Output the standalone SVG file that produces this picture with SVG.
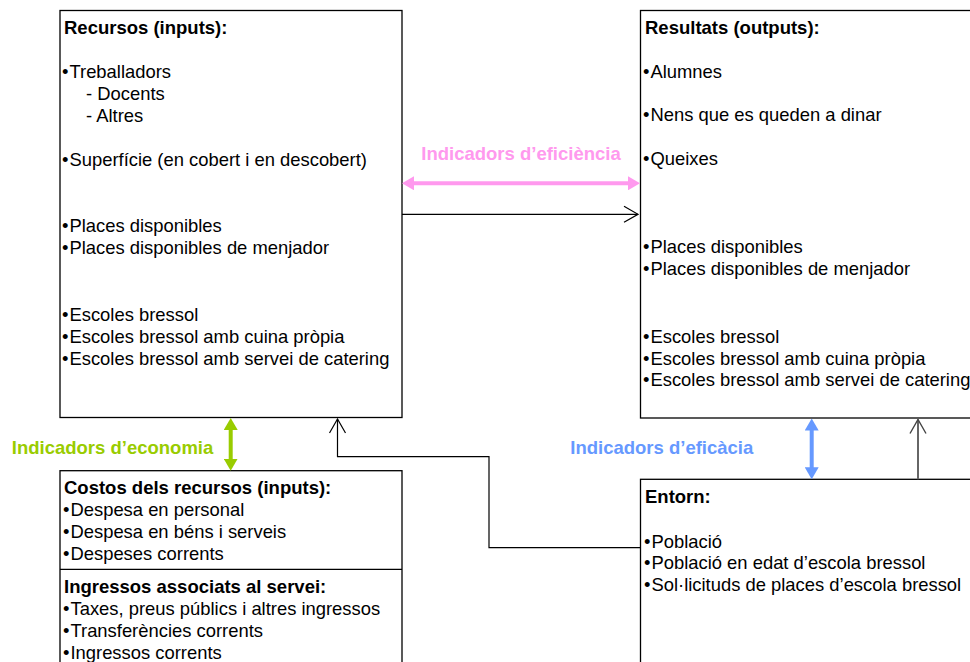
<svg xmlns="http://www.w3.org/2000/svg" width="970" height="662" viewBox="0 0 970 662">
<style>
  .box { fill: #ffffff; stroke: #000000; stroke-width: 1.3; }
  .t { font-family: "Liberation Sans", Arial, sans-serif; font-size: 18.4px; fill: #000000; }
  .h { font-family: "Liberation Sans", Arial, sans-serif; font-size: 18.5px; font-weight: bold; fill: #000000; }
  .lbl { font-family: "Liberation Sans", Arial, sans-serif; font-size: 18.5px; font-weight: bold; }
  .open { fill: none; stroke: #000000; stroke-width: 1.2; }
</style>
<defs>
  <marker id="pinkHead" viewBox="0 0 12 14" refX="2" refY="7" markerWidth="12" markerHeight="14" markerUnits="userSpaceOnUse" orient="auto-start-reverse">
    <path d="M0,0 L12,7 L0,14 z" fill="#ff99ee"/>
  </marker>
  <marker id="greenHead" viewBox="0 0 12 14" refX="2" refY="7" markerWidth="12" markerHeight="14" markerUnits="userSpaceOnUse" orient="auto-start-reverse">
    <path d="M0,0 L12,7 L0,14 z" fill="#99cc00"/>
  </marker>
  <marker id="blueHead" viewBox="0 0 12 14" refX="2" refY="7" markerWidth="12" markerHeight="14" markerUnits="userSpaceOnUse" orient="auto-start-reverse">
    <path d="M0,0 L12,7 L0,14 z" fill="#6699ff"/>
  </marker>
  <marker id="openBlack" viewBox="0 0 16 18" refX="15" refY="9" markerWidth="16" markerHeight="18" markerUnits="userSpaceOnUse" orient="auto">
    <path d="M1,1 L15,9 L1,17" fill="none" stroke="#000000" stroke-width="1.2"/>
  </marker>
  <marker id="openGray" viewBox="0 0 16 18" refX="15" refY="9" markerWidth="16" markerHeight="18" markerUnits="userSpaceOnUse" orient="auto">
    <path d="M1,1 L15,9 L1,17" fill="none" stroke="#444444" stroke-width="1.4"/>
  </marker>
</defs>

<g id="recursos">
  <rect class="box" x="60" y="10.5" width="342" height="407"/>
  <text class="h" x="64" y="34">Recursos (inputs):</text>
  <text class="t" x="62" y="78">•<tspan dx="1">Treballadors</tspan></text>
  <text class="t" x="86" y="100">- Docents</text>
  <text class="t" x="86" y="122">- Altres</text>
  <text class="t" x="62" y="166">•<tspan dx="1">Superfície (en cobert i en descobert)</tspan></text>
  <text class="t" x="62" y="232">•<tspan dx="1">Places disponibles</tspan></text>
  <text class="t" x="62" y="254">•<tspan dx="1">Places disponibles de menjador</tspan></text>
  <text class="t" x="62" y="321">•<tspan dx="1">Escoles bressol</tspan></text>
  <text class="t" x="62" y="343">•<tspan dx="1">Escoles bressol amb cuina pròpia</tspan></text>
  <text class="t" x="62" y="365">•<tspan dx="1">Escoles bressol amb servei de catering</tspan></text>
</g>

<g id="resultats">
  <rect class="box" x="640.5" y="10.5" width="360" height="407.5"/>
  <text class="h" x="645" y="34">Resultats (outputs):</text>
  <text class="t" x="643" y="78">•<tspan dx="1">Alumnes</tspan></text>
  <text class="t" x="643" y="121">•<tspan dx="1">Nens que es queden a dinar</tspan></text>
  <text class="t" x="643" y="165">•<tspan dx="1">Queixes</tspan></text>
  <text class="t" x="643" y="253">•<tspan dx="1">Places disponibles</tspan></text>
  <text class="t" x="643" y="275">•<tspan dx="1">Places disponibles de menjador</tspan></text>
  <text class="t" x="643" y="343">•<tspan dx="1">Escoles bressol</tspan></text>
  <text class="t" x="643" y="365">•<tspan dx="1">Escoles bressol amb cuina pròpia</tspan></text>
  <text class="t" x="643" y="386">•<tspan dx="1">Escoles bressol amb servei de catering</tspan></text>
</g>

<g id="costos">
  <rect class="box" x="60" y="470.7" width="342" height="220"/>
  <line x1="60" y1="569.3" x2="402" y2="569.3" stroke="#000000" stroke-width="1.3"/>
  <text class="h" x="64" y="494">Costos dels recursos (inputs):</text>
  <text class="t" x="63" y="516">•<tspan dx="1">Despesa en personal</tspan></text>
  <text class="t" x="63" y="538">•<tspan dx="1">Despesa en béns i serveis</tspan></text>
  <text class="t" x="63" y="560">•<tspan dx="1">Despeses corrents</tspan></text>
  <text class="h" x="64" y="593">Ingressos associats al servei:</text>
  <text class="t" x="63" y="615">•<tspan dx="1">Taxes, preus públics i altres ingressos</tspan></text>
  <text class="t" x="63" y="637">•<tspan dx="1">Transferències corrents</tspan></text>
  <text class="t" x="63" y="659">•<tspan dx="1">Ingressos corrents</tspan></text>
</g>

<g id="entorn">
  <rect class="box" x="640.5" y="479.3" width="360" height="220"/>
  <text class="h" x="645" y="503">Entorn:</text>
  <text class="t" x="644" y="548">•<tspan dx="1">Població</tspan></text>
  <text class="t" x="644" y="569">•<tspan dx="1">Població en edat d’escola bressol</tspan></text>
  <text class="t" x="644" y="591">•<tspan dx="1">Sol·licituds de places d’escola bressol</tspan></text>
</g>

<g id="connectors">
  <line x1="412" y1="183.3" x2="630" y2="183.3" stroke="#ff99ee" stroke-width="4" marker-start="url(#pinkHead)" marker-end="url(#pinkHead)"/>
  <text class="lbl" x="521" y="160" text-anchor="middle" fill="#ff99ee">Indicadors d’eficiència</text>

  <line x1="402" y1="214.3" x2="638" y2="214.3" class="open" marker-end="url(#openBlack)"/>

  <line x1="230.7" y1="428" x2="230.7" y2="460.7" stroke="#99cc00" stroke-width="4" marker-start="url(#greenHead)" marker-end="url(#greenHead)"/>
  <text class="lbl" x="213.3" y="454" text-anchor="end" fill="#99cc00">Indicadors d’economia</text>

  <line x1="811.7" y1="428.5" x2="811.7" y2="469.3" stroke="#6699ff" stroke-width="4" marker-start="url(#blueHead)" marker-end="url(#blueHead)"/>
  <text class="lbl" x="753.3" y="454" text-anchor="end" fill="#6699ff">Indicadors d’eficàcia</text>

  <polyline class="open" points="640.5,547.7 489,547.7 489,456.7 337.5,456.7 337.5,419" marker-end="url(#openBlack)"/>

  <line x1="918" y1="479.3" x2="918" y2="419.5" stroke="#666666" stroke-width="2" marker-end="url(#openGray)"/>
</g>
</svg>
